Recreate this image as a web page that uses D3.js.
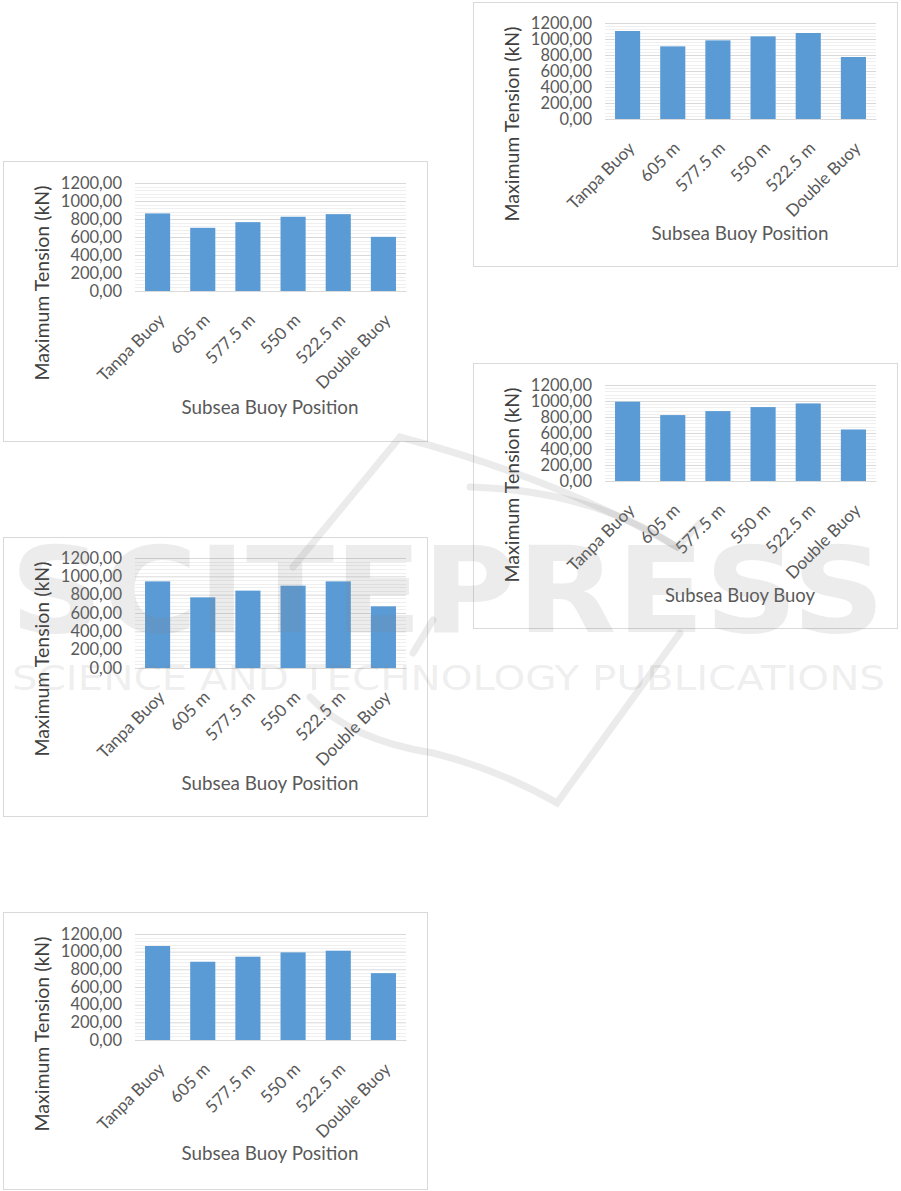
<!DOCTYPE html>
<html>
<head>
<meta charset="utf-8">
<script src="https://cdn.jsdelivr.net/npm/d3@7"></script>
<style>
  body { margin: 0; background: #fff; }
  svg { display: block; font-family: Lato, "Open Sans", sans-serif; }
</style>
</head>
<body>
<div id="vis"></div>
<script>
// categories shared by every chart
const categories = ["Tanpa Buoy", "605 m", "577.5 m", "550 m", "522.5 m", "Double Buoy"];
const yTicks = [0, 200, 400, 600, 800, 1000, 1200];

// maximum tension (kN)
const tensionTopLeft = [862, 702, 765, 825, 854, 602];
const tensionMidLeft = [945, 771, 844, 898, 945, 673];
const tensionBottomLeft = [1064, 886, 943, 992, 1011, 757];
const tensionTopRight = [1100, 908, 983, 1033, 1075, 775];
const tensionMidRight = [991, 824, 874, 924, 970, 644];

const yTitle = "Maximum Tension (kN)";
const xTitles = ["Subsea Buoy Position", "Subsea Buoy Position", "Subsea Buoy Position",
                 "Subsea Buoy Position", "Subsea Buoy Buoy"];

// panel boxes on the page
const panels = [
    {values: tensionTopLeft,    x: 3,   y: 161, w: 425, h: 281, top: 22, bottom: 130, titleY: 246},
    {values: tensionMidLeft,    x: 3,   y: 537, w: 425, h: 280, top: 21, bottom: 131, titleY: 246},
    {values: tensionBottomLeft, x: 3,   y: 912, w: 425, h: 278, top: 22, bottom: 128, titleY: 241},
    {values: tensionTopRight,   x: 473, y: 2,   w: 425, h: 265, top: 21, bottom: 117, titleY: 231},
    {values: tensionMidRight,   x: 473, y: 363, w: 425, h: 266, top: 22, bottom: 118, titleY: 232}
];

const W = 901, H = 1191;
const fmt = d3.formatLocale({decimal: ",", thousands: ".", grouping: [3], currency: ["", ""]}).format(".2f");

const svg = d3.select("#vis").append("svg")
    .attr("width", W)
    .attr("height", H);

panels.forEach((p, i) => {
    const g = svg.append("g")
        .attr("transform", "translate(" + p.x + "," + p.y + ")");

    g.append("rect")
        .attr("x", 0.5).attr("y", 0.5)
        .attr("width", p.w - 1).attr("height", p.h - 1)
        .attr("fill", "#fff")
        .attr("stroke", "#d9d9d9");

    const x = d3.scaleBand()
        .domain(categories)
        .range([132, 403])
        .paddingInner(0.444)
        .paddingOuter(0.222);

    const y = d3.scaleLinear()
        .domain([0, 1200])
        .range([p.bottom, p.top]);

    // minor gridlines
    g.append("g").selectAll("line")
        .data(d3.range(0, 1201, 40).filter(v => v % 200 !== 0))
        .enter().append("line")
        .attr("x1", 132).attr("x2", 403)
        .attr("y1", d => Math.round(y(d)) + 0.5)
        .attr("y2", d => Math.round(y(d)) + 0.5)
        .attr("stroke", "#efefef");

    // major gridlines + tick labels
    const yAxis = g.append("g")
        .attr("transform", "translate(132,0)")
        .call(d3.axisLeft(y).tickValues(yTicks).tickFormat(fmt).tickSize(-271).tickPadding(13));
    yAxis.select(".domain").remove();
    yAxis.selectAll(".tick line").attr("stroke", "#d9d9d9");
    yAxis.selectAll(".tick text")
        .attr("fill", "#595959")
        .attr("font-size", "16.5px")
        .attr("font-family", "Lato, sans-serif");

    g.append("g").selectAll("rect")
        .data(p.values)
        .enter().append("rect")
        .attr("x", (d, k) => x(categories[k]))
        .attr("y", d => y(d))
        .attr("width", x.bandwidth())
        .attr("height", d => y(0) - y(d))
        .attr("fill", "#5b9bd5");

    // rotated category labels
    const xAxis = g.append("g")
        .attr("transform", "translate(0," + p.bottom + ")")
        .call(d3.axisBottom(x).tickSize(0).tickPadding(0));
    xAxis.select(".domain").attr("stroke", "#d9d9d9");
    xAxis.selectAll(".tick text")
        .attr("fill", "#595959")
        .attr("font-size", "17px")
        .attr("font-family", "Lato, sans-serif")
        .attr("text-anchor", "end")
        .attr("dy", "0.35em")
        .attr("transform", "translate(4,26) rotate(-45)");

    g.append("text")
        .attr("transform", "translate(39," + 122 + ") rotate(-90)")
        .attr("text-anchor", "middle")
        .attr("dy", "0.35em")
        .attr("font-size", "19px")
        .attr("textLength", 195)
        .attr("lengthAdjust", "spacingAndGlyphs")
        .attr("fill", "#404040")
        .text(yTitle);

    g.append("text")
        .attr("x", 267)
        .attr("y", p.titleY)
        .attr("dy", "0.35em")
        .attr("text-anchor", "middle")
        .attr("font-size", "19px")
        .attr("textLength", i === 4 ? 150 : 177)
        .attr("lengthAdjust", "spacingAndGlyphs")
        .attr("fill", "#595959")
        .text(xTitles[i]);
});

// publisher watermark over the page
const wm = svg.append("g").attr("pointer-events", "none")
    .attr("fill", "none")
    .attr("stroke", "#808080")
    .attr("stroke-opacity", 0.16)
    .attr("stroke-width", 7)
    .attr("stroke-linecap", "round");
wm.append("path").attr("d", "M293,567 L400,437 Q560,480 677,547 L700,523");
wm.append("path").attr("d", "M470,487 Q590,490 677,547");
wm.append("path").attr("d", "M433,620 L413,653");
wm.append("path").attr("d", "M310,697 Q350,740 433,753 Q500,770 557,803 L680,633");
const wmText = svg.append("g").attr("pointer-events", "none")
    .attr("fill", "#808080")
    .attr("fill-opacity", 0.15)
    .attr("font-family", "DejaVu Sans");
wmText.append("text")
    .attr("x", 10).attr("y", 632)
    .attr("textLength", 875)
    .attr("lengthAdjust", "spacingAndGlyphs")
    .attr("font-weight", "bold")
    .attr("font-size", "120px")
    .text("SCITEPRESS");
wmText.append("text")
    .attr("x", 12).attr("y", 690)
    .attr("textLength", 873)
    .attr("lengthAdjust", "spacingAndGlyphs")
    .attr("font-size", "34px")
    .text("SCIENCE AND TECHNOLOGY PUBLICATIONS");
</script>
</body>
</html>
